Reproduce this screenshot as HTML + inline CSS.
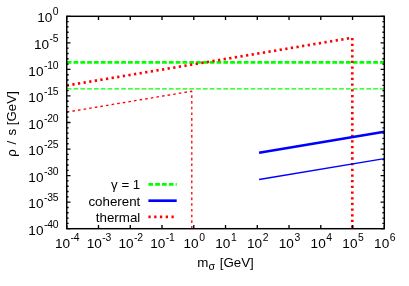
<!DOCTYPE html><html><head><meta charset="utf-8"><style>html,body{margin:0;padding:0;background:#fff;overflow:hidden}</style></head><body><svg width="409" height="286" viewBox="0 0 409 286" style="display:block;will-change:transform">
<rect width="409" height="286" fill="#fff"/>
<line x1="66.75" y1="62.4" x2="384.3" y2="62.4" stroke="#00ff00" stroke-width="2.67" stroke-dasharray="4.7 2.11"/>
<line x1="66.75" y1="88.9" x2="384.3" y2="88.9" stroke="#00ff00" stroke-width="1.33" stroke-dasharray="4.7 2.11"/>
<polyline points="66.75,85.5 352.1,37.78 352.3,38.08 352.3,228.7" fill="none" stroke="#ff0000" stroke-width="2.67" stroke-dasharray="2.27 3.41"/>
<polyline points="66.75,112.1 191.4,91.26 191.8,91.66 191.8,228.7" fill="none" stroke="#ff0000" stroke-width="1.33" stroke-dasharray="2.6 3.08"/>
<line x1="259.1" y1="152.7" x2="384.3" y2="131.76" stroke="#0000ff" stroke-width="2.67"/>
<line x1="259.1" y1="179.5" x2="384.3" y2="158.56" stroke="#0000ff" stroke-width="1.33"/>
<line x1="148.4" y1="184.4" x2="176.7" y2="184.4" stroke="#00ff00" stroke-width="2.67" stroke-dasharray="4.7 2.11"/>
<line x1="148.4" y1="200.7" x2="176.7" y2="200.7" stroke="#0000ff" stroke-width="2.67"/>
<line x1="148.4" y1="216.9" x2="176.7" y2="216.9" stroke="#ff0000" stroke-width="2.67" stroke-dasharray="2.3 3.47"/>
<path d="M66.75,228.7v-3.7M66.75,16.3v3.7M98.50,228.7v-3.7M98.50,16.3v3.7M130.26,228.7v-3.7M130.26,16.3v3.7M162.02,228.7v-3.7M162.02,16.3v3.7M193.77,228.7v-3.7M193.77,16.3v3.7M225.53,228.7v-3.7M225.53,16.3v3.7M257.28,228.7v-3.7M257.28,16.3v3.7M289.03,228.7v-3.7M289.03,16.3v3.7M320.79,228.7v-3.7M320.79,16.3v3.7M352.55,228.7v-3.7M352.55,16.3v3.7M384.30,228.7v-3.7M384.30,16.3v3.7M66.75,16.30h3.7M384.3,16.30h-3.7M66.75,21.61h1.9M384.3,21.61h-1.9M66.75,26.92h1.9M384.3,26.92h-1.9M66.75,32.23h1.9M384.3,32.23h-1.9M66.75,37.54h1.9M384.3,37.54h-1.9M66.75,42.85h3.7M384.3,42.85h-3.7M66.75,48.16h1.9M384.3,48.16h-1.9M66.75,53.47h1.9M384.3,53.47h-1.9M66.75,58.78h1.9M384.3,58.78h-1.9M66.75,64.09h1.9M384.3,64.09h-1.9M66.75,69.40h3.7M384.3,69.40h-3.7M66.75,74.71h1.9M384.3,74.71h-1.9M66.75,80.02h1.9M384.3,80.02h-1.9M66.75,85.33h1.9M384.3,85.33h-1.9M66.75,90.64h1.9M384.3,90.64h-1.9M66.75,95.95h3.7M384.3,95.95h-3.7M66.75,101.26h1.9M384.3,101.26h-1.9M66.75,106.57h1.9M384.3,106.57h-1.9M66.75,111.88h1.9M384.3,111.88h-1.9M66.75,117.19h1.9M384.3,117.19h-1.9M66.75,122.50h3.7M384.3,122.50h-3.7M66.75,127.81h1.9M384.3,127.81h-1.9M66.75,133.12h1.9M384.3,133.12h-1.9M66.75,138.43h1.9M384.3,138.43h-1.9M66.75,143.74h1.9M384.3,143.74h-1.9M66.75,149.05h3.7M384.3,149.05h-3.7M66.75,154.36h1.9M384.3,154.36h-1.9M66.75,159.67h1.9M384.3,159.67h-1.9M66.75,164.98h1.9M384.3,164.98h-1.9M66.75,170.29h1.9M384.3,170.29h-1.9M66.75,175.60h3.7M384.3,175.60h-3.7M66.75,180.91h1.9M384.3,180.91h-1.9M66.75,186.22h1.9M384.3,186.22h-1.9M66.75,191.53h1.9M384.3,191.53h-1.9M66.75,196.84h1.9M384.3,196.84h-1.9M66.75,202.15h3.7M384.3,202.15h-3.7M66.75,207.46h1.9M384.3,207.46h-1.9M66.75,212.77h1.9M384.3,212.77h-1.9M66.75,218.08h1.9M384.3,218.08h-1.9M66.75,223.39h1.9M384.3,223.39h-1.9M66.75,228.70h3.7M384.3,228.70h-3.7" stroke="#000" stroke-width="1.33" fill="none"/>
<rect x="66.75" y="16.3" width="317.55" height="212.39999999999998" fill="none" stroke="#000" stroke-width="1.45"/>
<g font-family="Liberation Sans, sans-serif" font-size="13.33" fill="#000">
<text x="58.4" y="22.40" text-anchor="end" font-size="13.6">10<tspan font-size="10.4" letter-spacing="-0.2" dx="0.5" dy="-7">0</tspan></text>
<text x="58.4" y="48.95" text-anchor="end" font-size="13.6">10<tspan font-size="10.4" letter-spacing="-0.2" dx="0.5" dy="-7">-5</tspan></text>
<text x="58.4" y="75.50" text-anchor="end" font-size="13.6">10<tspan font-size="10.4" letter-spacing="-0.2" dx="0.5" dy="-7">-10</tspan></text>
<text x="58.4" y="102.05" text-anchor="end" font-size="13.6">10<tspan font-size="10.4" letter-spacing="-0.2" dx="0.5" dy="-7">-15</tspan></text>
<text x="58.4" y="128.60" text-anchor="end" font-size="13.6">10<tspan font-size="10.4" letter-spacing="-0.2" dx="0.5" dy="-7">-20</tspan></text>
<text x="58.4" y="155.15" text-anchor="end" font-size="13.6">10<tspan font-size="10.4" letter-spacing="-0.2" dx="0.5" dy="-7">-25</tspan></text>
<text x="58.4" y="181.70" text-anchor="end" font-size="13.6">10<tspan font-size="10.4" letter-spacing="-0.2" dx="0.5" dy="-7">-30</tspan></text>
<text x="58.4" y="208.25" text-anchor="end" font-size="13.6">10<tspan font-size="10.4" letter-spacing="-0.2" dx="0.5" dy="-7">-35</tspan></text>
<text x="58.4" y="234.80" text-anchor="end" font-size="13.6">10<tspan font-size="10.4" letter-spacing="-0.2" dx="0.5" dy="-7">-40</tspan></text>
<text x="67.15" y="248.4" text-anchor="middle" font-size="13.6">10<tspan font-size="10.4" letter-spacing="-0.2" dx="0.5" dy="-7">-4</tspan></text>
<text x="98.91" y="248.4" text-anchor="middle" font-size="13.6">10<tspan font-size="10.4" letter-spacing="-0.2" dx="0.5" dy="-7">-3</tspan></text>
<text x="130.66" y="248.4" text-anchor="middle" font-size="13.6">10<tspan font-size="10.4" letter-spacing="-0.2" dx="0.5" dy="-7">-2</tspan></text>
<text x="162.42" y="248.4" text-anchor="middle" font-size="13.6">10<tspan font-size="10.4" letter-spacing="-0.2" dx="0.5" dy="-7">-1</tspan></text>
<text x="194.17" y="248.4" text-anchor="middle" font-size="13.6">10<tspan font-size="10.4" letter-spacing="-0.2" dx="0.5" dy="-7">0</tspan></text>
<text x="225.93" y="248.4" text-anchor="middle" font-size="13.6">10<tspan font-size="10.4" letter-spacing="-0.2" dx="0.5" dy="-7">1</tspan></text>
<text x="257.68" y="248.4" text-anchor="middle" font-size="13.6">10<tspan font-size="10.4" letter-spacing="-0.2" dx="0.5" dy="-7">2</tspan></text>
<text x="289.43" y="248.4" text-anchor="middle" font-size="13.6">10<tspan font-size="10.4" letter-spacing="-0.2" dx="0.5" dy="-7">3</tspan></text>
<text x="321.19" y="248.4" text-anchor="middle" font-size="13.6">10<tspan font-size="10.4" letter-spacing="-0.2" dx="0.5" dy="-7">4</tspan></text>
<text x="352.94" y="248.4" text-anchor="middle" font-size="13.6">10<tspan font-size="10.4" letter-spacing="-0.2" dx="0.5" dy="-7">5</tspan></text>
<text x="384.70" y="248.4" text-anchor="middle" font-size="13.6">10<tspan font-size="10.4" letter-spacing="-0.2" dx="0.5" dy="-7">6</tspan></text>
<text x="140.3" y="188.8" text-anchor="end">γ = 1</text>
<text x="140.3" y="205.8" text-anchor="end">coherent</text>
<text x="140.3" y="221.6" text-anchor="end">thermal</text>
<text x="197.3" y="266.6">m<tspan font-size="10.67" dy="3">σ</tspan></text><text x="219.7" y="266.6">[GeV]</text>
<g transform="translate(15.9,0) rotate(-90)"><text x="-156.85" y="0">ρ</text><text x="-144.6" y="0">/</text><text x="-135.6" y="0">s [GeV]</text></g>
</g>
</svg></body></html>
